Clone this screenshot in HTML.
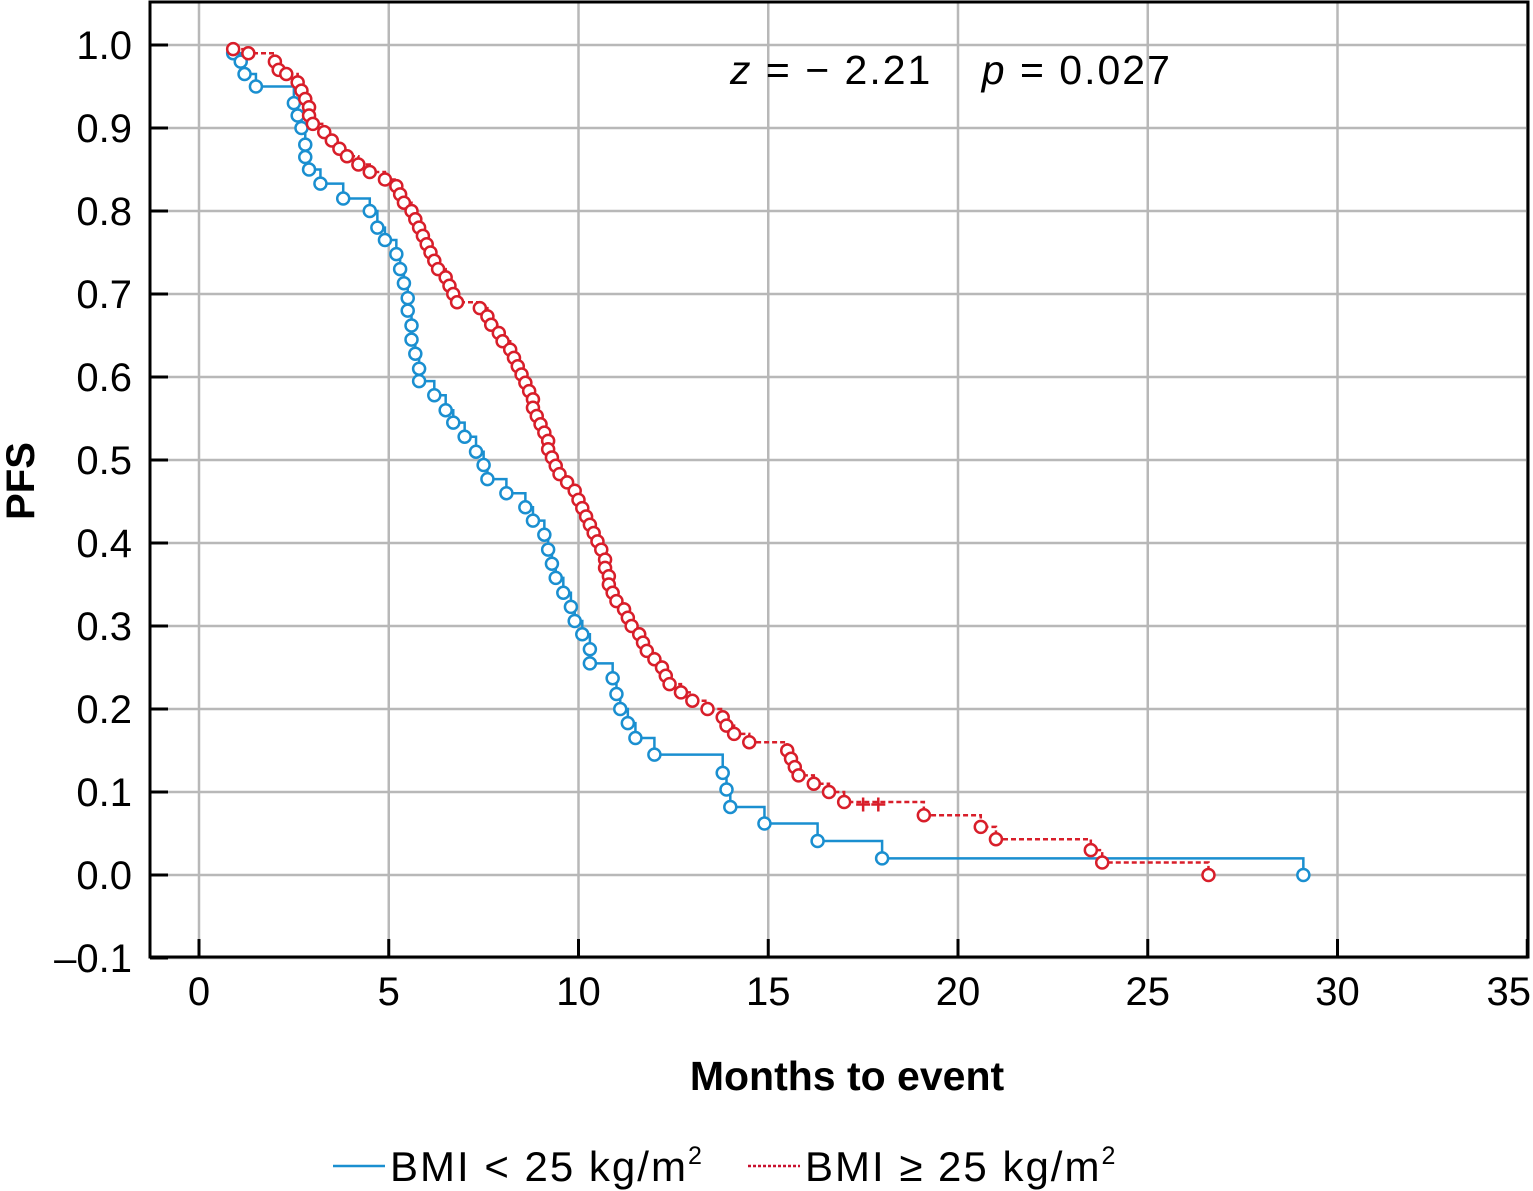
<!DOCTYPE html>
<html><head><meta charset="utf-8"><style>
body{margin:0;background:#fff;}
svg{display:block;font-family:"Liberation Sans","DejaVu Sans",sans-serif;}
</style></head><body>
<svg id="chart" width="1533" height="1191" viewBox="0 0 1533 1191" xmlns="http://www.w3.org/2000/svg">
<g id="grid"></g>
<g id="series"></g>
<rect x="150" y="2" width="1378" height="955" fill="none" stroke="#000" stroke-width="3"/>
<g id="ticks"></g>
<text x="730" y="84" font-size="41" letter-spacing="2" fill="#000"><tspan font-style="italic">z</tspan> = − 2.21 <tspan dx="36" font-style="italic">p</tspan> = 0.027</text>
<text x="847" y="1090" font-size="41" font-weight="bold" text-anchor="middle">Months to event</text>
<text transform="translate(34,481) rotate(-90)" font-size="40" font-weight="bold" text-anchor="middle">PFS</text>
<g>
<line x1="333" y1="1166" x2="385" y2="1166" stroke="#1a8fd0" stroke-width="2.5"/>
<text x="390" y="1181" font-size="42" letter-spacing="2">BMI &lt; 25 kg/m<tspan font-size="25" dy="-17">2</tspan></text>
<line x1="748" y1="1166" x2="800" y2="1166" stroke="#c8102e" stroke-width="2.5" stroke-dasharray="3,2"/>
<text x="805" y="1181" font-size="42" letter-spacing="2">BMI ≥ 25 kg/m<tspan font-size="25" dy="-17">2</tspan></text>
</g>
</svg>
<script>
const xTicks=[0,5,10,15,20,25,30,35];
const yTicks=[-0.1,0,0.1,0.2,0.3,0.4,0.5,0.6,0.7,0.8,0.9,1.0];
const blueT=[0.9,1.1,1.2,1.5,2.5,2.6,2.7,2.8,2.8,2.9,3.2,3.8,4.5,4.7,4.9,5.2,5.3,5.4,5.5,5.5,5.6,5.6,5.7,5.8,5.8,6.2,6.5,6.7,7.0,7.3,7.5,7.6,8.1,8.6,8.8,9.1,9.2,9.3,9.4,9.6,9.8,9.9,10.1,10.3,10.3,10.9,11.0,11.1,11.3,11.5,12.0,13.8,13.9,14.0,14.9,16.3,18.0,29.1];
const blueS=[0.99,0.98,0.965,0.95,0.93,0.915,0.9,0.88,0.865,0.85,0.833,0.815,0.8,0.78,0.765,0.748,0.73,0.713,0.695,0.68,0.662,0.645,0.628,0.61,0.595,0.578,0.56,0.545,0.528,0.51,0.494,0.477,0.46,0.443,0.427,0.41,0.392,0.375,0.358,0.34,0.323,0.306,0.29,0.272,0.255,0.237,0.218,0.2,0.183,0.165,0.145,0.123,0.103,0.082,0.062,0.041,0.02,0.0];
const redT=[0.9,1.3,2.0,2.1,2.3,2.6,2.7,2.8,2.9,2.9,3.0,3.3,3.5,3.7,3.9,4.2,4.5,4.9,5.2,5.3,5.4,5.6,5.7,5.8,5.9,6.0,6.1,6.2,6.3,6.5,6.6,6.7,6.8,7.4,7.6,7.7,7.9,8.0,8.2,8.3,8.4,8.5,8.6,8.7,8.8,8.8,8.9,9.0,9.1,9.2,9.2,9.3,9.4,9.5,9.7,9.9,10.0,10.1,10.2,10.3,10.4,10.5,10.6,10.7,10.7,10.8,10.8,10.9,11.0,11.2,11.3,11.4,11.6,11.7,11.8,12.0,12.2,12.3,12.4,12.7,13.0,13.4,13.8,13.9,14.1,14.5,15.5,15.6,15.7,15.8,16.2,16.6,17.0,19.1,20.6,21.0,23.5,23.8,26.6];
const redS=[0.995,0.99,0.98,0.97,0.965,0.955,0.945,0.935,0.925,0.915,0.905,0.895,0.885,0.875,0.866,0.856,0.847,0.838,0.83,0.82,0.81,0.8,0.79,0.78,0.77,0.76,0.75,0.74,0.73,0.72,0.71,0.7,0.69,0.683,0.673,0.663,0.653,0.643,0.633,0.623,0.613,0.603,0.593,0.583,0.573,0.563,0.553,0.543,0.533,0.523,0.513,0.503,0.493,0.483,0.473,0.463,0.452,0.442,0.432,0.422,0.412,0.402,0.392,0.38,0.37,0.36,0.35,0.34,0.33,0.32,0.31,0.3,0.29,0.28,0.27,0.26,0.25,0.24,0.23,0.22,0.21,0.2,0.19,0.18,0.17,0.16,0.15,0.14,0.13,0.12,0.11,0.1,0.088,0.072,0.058,0.043,0.03,0.015,0.0];
const redCensT=[17.5,17.9];
const redCensS=[0.085,0.085];

const NS='http://www.w3.org/2000/svg';
const X=v=>199+v*37.95;
const Y=v=>875-v*830;
function mk(tag,attrs,parent){const e=document.createElementNS(NS,tag);for(const k in attrs)e.setAttribute(k,attrs[k]);parent.appendChild(e);return e;}
const grid=document.getElementById('grid'),ticks=document.getElementById('ticks'),series=document.getElementById('series');
xTicks.forEach((t,i)=>{
  const g=mk('line',{x1:X(t),x2:X(t),y1:2,y2:957,stroke:'#b8b8b8','stroke-width':2.5},grid);
  
  
  const tk=mk('line',{x1:X(t),x2:X(t),y1:939,y2:957,stroke:'#000','stroke-width':3},ticks);
  
  
  const last=i===xTicks.length-1;
  const l=mk('text',{x:last?1531:X(t),y:1005,'font-size':40,'text-anchor':last?'end':'middle'},ticks);
  l.textContent=String(t);
  
  
});
yTicks.forEach(t=>{
  const g=mk('line',{x1:150,x2:1528,y1:Y(t),y2:Y(t),stroke:'#b8b8b8','stroke-width':2.5},grid);
  
  
  const tk=mk('line',{x1:150,x2:168,y1:Y(t),y2:Y(t),stroke:'#000','stroke-width':3},ticks);
  
  
  const l=mk('text',{x:132,y:Y(t)+14,'font-size':40,'text-anchor':'end'},ticks);
  l.textContent=(t<0?'–':'')+Math.abs(t).toFixed(1);
  
  
});
function drawKM(T,S,color,dash,name){
  let d='M'+X(T[0])+','+Y(S[0]);
  for(let i=1;i<T.length;i++){d+=' H'+X(T[i])+' V'+Y(S[i]);}
  const p=mk('path',{d:d,fill:'none',stroke:color,'stroke-width':2.5,'stroke-dasharray':dash},series);
  
  
  for(let i=0;i<T.length;i++){
    const c=mk('circle',{cx:X(T[i]),cy:Y(S[i]),r:6,fill:'#fff',stroke:color,'stroke-width':2.5},series);
    
    
  }
}
drawKM(blueT,blueS,'#1a8fd0','none','bmi-low');
drawKM(redT,redS,'#d81e2a','5,3','bmi-high');
redCensT.forEach((t,i)=>{
  const c=mk('path',{d:'M'+(X(t)-7)+','+Y(redCensS[i])+' h14 M'+X(t)+','+(Y(redCensS[i])-7)+' v14',stroke:'#d81e2a','stroke-width':2.5},series);
  
  
});
</script>
</body></html>
